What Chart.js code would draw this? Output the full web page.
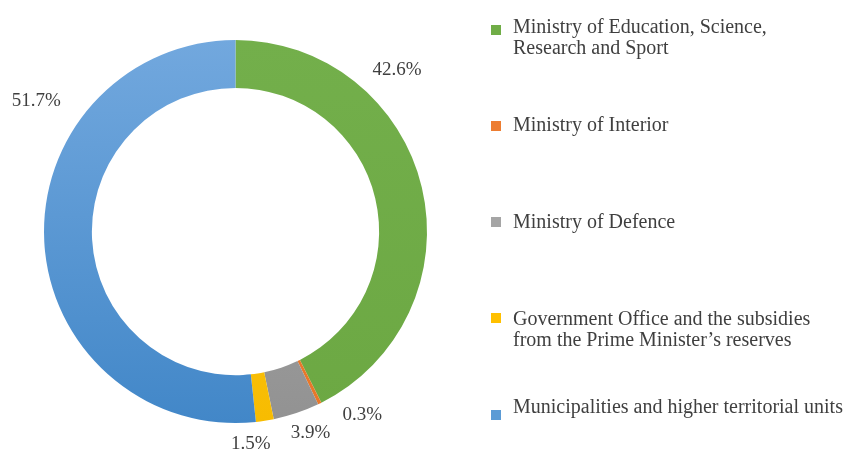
<!DOCTYPE html>
<html>
<head>
<meta charset="utf-8">
<script src="https://cdn.jsdelivr.net/npm/chart.js@4.4.1/dist/chart.umd.min.js"></script>
<style>
  html, body { margin: 0; padding: 0; background: #ffffff; }
  #chart { display: block; }
</style>
</head>
<body>
<canvas id="chart" width="849" height="453"></canvas>
<script>
(function () {
  "use strict";

  // data
  const categories = [
    ["Ministry of Education, Science,", "Research and Sport"],
    ["Ministry of Interior"],
    ["Ministry of Defence"],
    ["Government Office and the subsidies", "from the Prime Minister\u2019s reserves"],
    ["Municipalities and higher territorial units"]
  ];
  const shares = [42.6, 0.3, 3.9, 1.5, 51.7];

  // styles: [top colour, bottom colour] of each slice
  const sliceColors = [
    ["#73AF4B", "#6CA843"],
    ["#ED7D31", "#E8772A"],
    ["#ADADAD", "#929292"],
    ["#FFC830", "#F7BC00"],
    ["#72A8DE", "#4287C8"]
  ];
  const markerColors = ["#70AD47", "#ED7D31", "#A5A5A5", "#FFC000", "#5B9BD5"];

  // layout
  const TEXT_COLOR = "#3f3f3f";
  const LABEL_FONT = "19px 'Liberation Serif', serif";
  const LEGEND_FONT = "20px 'Liberation Serif', serif";
  const labelGap = 26;
  const labelNudge = [[-50, -111], [31, -12], [6, -5], [-18, -2], [18, -142]];
  const legendX = 491;
  const legendTextX = 513;
  const legendLineH = 21;
  const legendBaselines = [33, 131, 228, 325, 413];
  const legendMarkerY = [30, 126, 222, 318, 415];
  const markerSize = 10;

  function sliceFill(ctx) {
    const colors = sliceColors[ctx.dataIndex];
    const area = ctx.chart.chartArea;
    if (!area) return colors[0];
    const g = ctx.chart.ctx.createLinearGradient(0, area.top, 0, area.bottom);
    g.addColorStop(0, colors[0]);
    g.addColorStop(1, colors[1]);
    return g;
  }

  const percentLabels = {
    id: "percentLabels",
    afterDatasetsDraw(chart) {
      const ctx = chart.ctx;
      const meta = chart.getDatasetMeta(0);
      ctx.save();
      ctx.font = LABEL_FONT;
      ctx.fillStyle = TEXT_COLOR;
      ctx.textAlign = "center";
      ctx.textBaseline = "middle";
      meta.data.forEach(function (arc, i) {
        const p = arc.getProps(["x", "y", "startAngle", "endAngle", "outerRadius"], true);
        const mid = (p.startAngle + p.endAngle) / 2;
        const r = p.outerRadius + labelGap;
        const tx = p.x + Math.cos(mid) * r + labelNudge[i][0];
        const ty = p.y + Math.sin(mid) * r + labelNudge[i][1];
        ctx.fillText(shares[i].toFixed(1) + "%", tx, ty);
      });
      ctx.restore();
    }
  };

  const sideLegend = {
    id: "sideLegend",
    afterDraw(chart) {
      const ctx = chart.ctx;
      const labels = chart.data.labels;
      ctx.save();
      ctx.font = LEGEND_FONT;
      ctx.textAlign = "left";
      ctx.textBaseline = "alphabetic";
      labels.forEach(function (lines, i) {
        ctx.fillStyle = markerColors[i];
        ctx.fillRect(legendX, legendMarkerY[i] - markerSize / 2, markerSize, markerSize);
        ctx.fillStyle = TEXT_COLOR;
        lines.forEach(function (line, j) {
          ctx.fillText(line, legendTextX, legendBaselines[i] + j * legendLineH);
        });
      });
      ctx.restore();
    }
  };

  new Chart(document.getElementById("chart"), {
    type: "doughnut",
    data: {
      labels: categories,
      datasets: [{
        data: shares,
        backgroundColor: sliceFill,
        borderWidth: 0,
        hoverOffset: 0
      }]
    },
    options: {
      responsive: false,
      animation: false,
      cutout: "75%",
      layout: { padding: { left: 44, top: 40, right: 422, bottom: 30 } },
      plugins: {
        legend: { display: false },
        tooltip: { enabled: false }
      }
    },
    plugins: [percentLabels, sideLegend]
  });
})();
</script>
</body>
</html>
